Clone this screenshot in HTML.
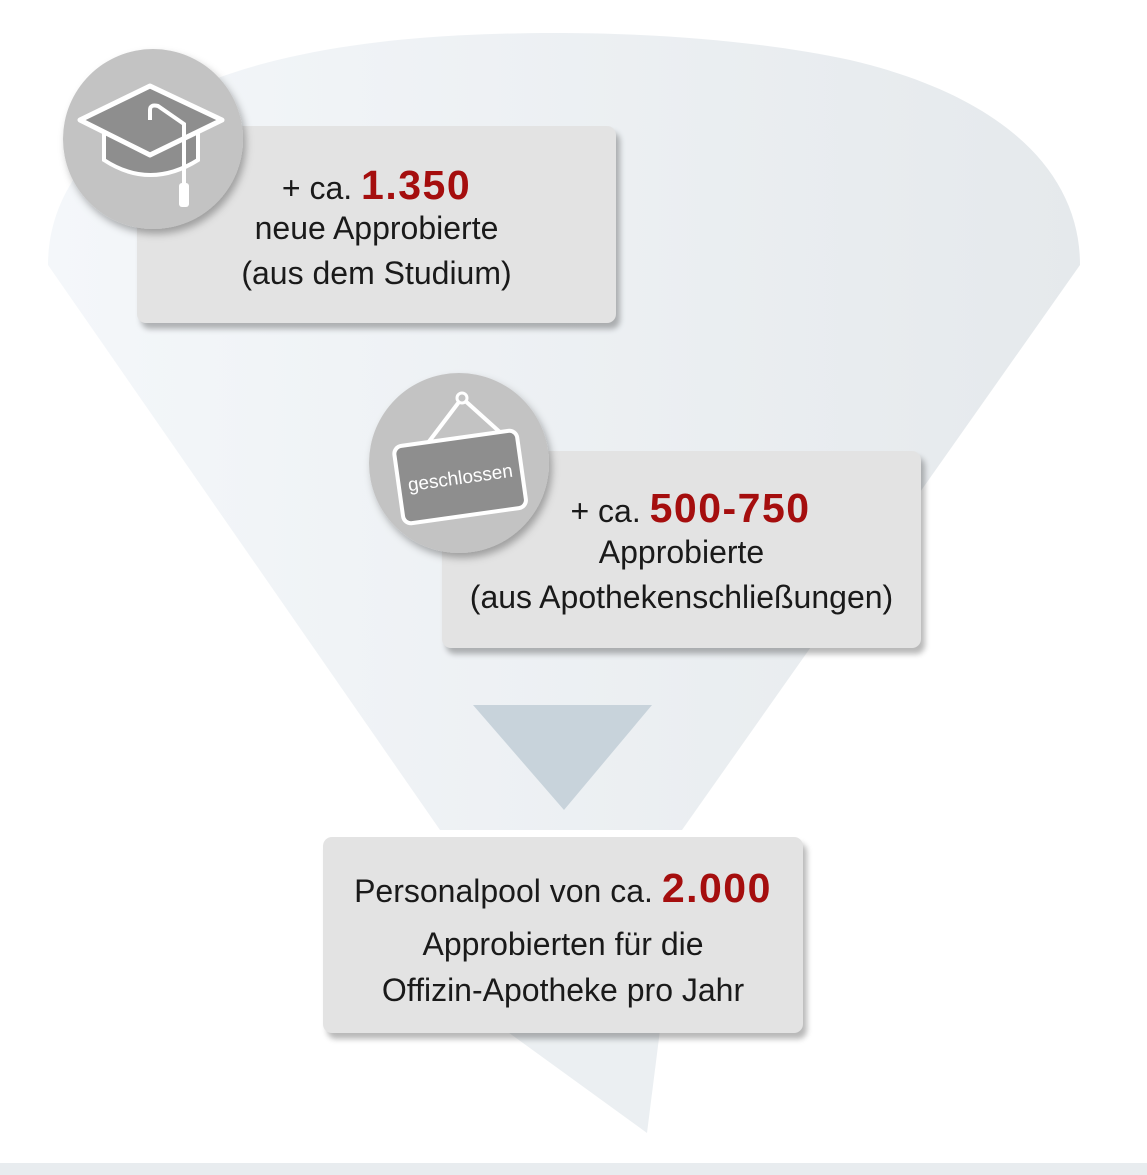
<!DOCTYPE html>
<html><head><meta charset="utf-8"><style>
body{margin:0;width:1147px;height:1175px;background:#fff;position:relative;overflow:hidden;font-family:"Liberation Sans Narrow","Liberation Sans",sans-serif;}
.box{position:absolute;background:#e3e3e3;border-radius:9px;box-shadow:4px 6px 6px rgba(0,0,0,0.28);text-align:center;color:#1a1a1a;font-size:32px;}
.r{color:#a50e0e;font-weight:bold;font-size:41px;letter-spacing:1.5px;font-family:"Liberation Sans",sans-serif;}
.l{position:absolute;left:0;right:0;white-space:nowrap;}
</style></head><body>
<svg width="1147" height="1175" style="position:absolute;left:0;top:0">
<defs><linearGradient id="g" x1="0" x2="1" y1="0" y2="0"><stop offset="0" stop-color="#f4f7fa"/><stop offset="1" stop-color="#e5e9ec"/></linearGradient></defs>
<path d="M48,265 C48,160 150,60 420,38 C520,30 700,28 850,60 C1000,95 1080,170 1080,265 L682,830 L440,830 Z" fill="url(#g)"/>
<path d="M505,1030 L660,1030 L647,1133 Z" fill="#ebeff2"/>
<polygon points="473,705 652,705 564,810" fill="#c8d3db"/>
<rect x="0" y="1163" width="1147" height="12" fill="#e8ecef"/>
</svg>
<div class="box" style="left:137px;top:126px;width:479px;height:197px">
<div class="l" style="top:36px">+ ca. <span class="r">1.350</span></div>
<div class="l" style="top:84px">neue Approbierte</div>
<div class="l" style="top:129px">(aus dem Studium)</div>
</div>
<div class="box" style="left:442px;top:451px;width:479px;height:197px">
<div class="l" style="top:34px;padding-left:18px">+ ca. <span class="r">500-750</span></div>
<div class="l" style="top:83px">Approbierte</div>
<div class="l" style="top:128px">(aus Apothekenschließungen)</div>
</div>
<div class="box" style="left:323px;top:837px;width:480px;height:196px">
<div class="l" style="top:28px">Personalpool von ca. <span class="r">2.000</span></div>
<div class="l" style="top:89px">Approbierten für die</div>
<div class="l" style="top:135px">Offizin-Apotheke pro Jahr</div>
</div>
<svg width="1147" height="1175" style="position:absolute;left:0;top:0">
<defs><filter id="s"><feDropShadow dx="3" dy="5" stdDeviation="4" flood-opacity="0.3"/></filter></defs>
<circle cx="153" cy="139" r="90" fill="#c3c3c3" filter="url(#s)"/>
<path d="M104,128 L104,160 Q150,190 198,160 L198,128 Z" fill="#8e8e8e" stroke="#fff" stroke-width="4"/>
<polygon points="80,120 150,86 222,120 150,155" fill="#8e8e8e" stroke="#fff" stroke-width="5" stroke-linejoin="round"/>
<path d="M150,120 L150,110 Q150,104 158,106 L184,124 L184,185" fill="none" stroke="#fff" stroke-width="4"/>
<rect x="179" y="183" width="10" height="24" rx="3" fill="#fff"/>
<circle cx="459" cy="463" r="90" fill="#c3c3c3" filter="url(#s)"/>
<path d="M415,460 L462,398 L512,443" fill="none" stroke="#fff" stroke-width="4"/>
<circle cx="462" cy="398" r="5" fill="#c3c3c3" stroke="#fff" stroke-width="3"/>
<g transform="rotate(-8 460 476)">
<rect x="398" y="438" width="124" height="78" rx="8" fill="#8e8e8e" stroke="#fff" stroke-width="4"/>
<text x="460" y="484" fill="#fff" font-size="19" text-anchor="middle" font-family="Liberation Sans Narrow,Liberation Sans,sans-serif">geschlossen</text>
</g>
</svg>
</body></html>
